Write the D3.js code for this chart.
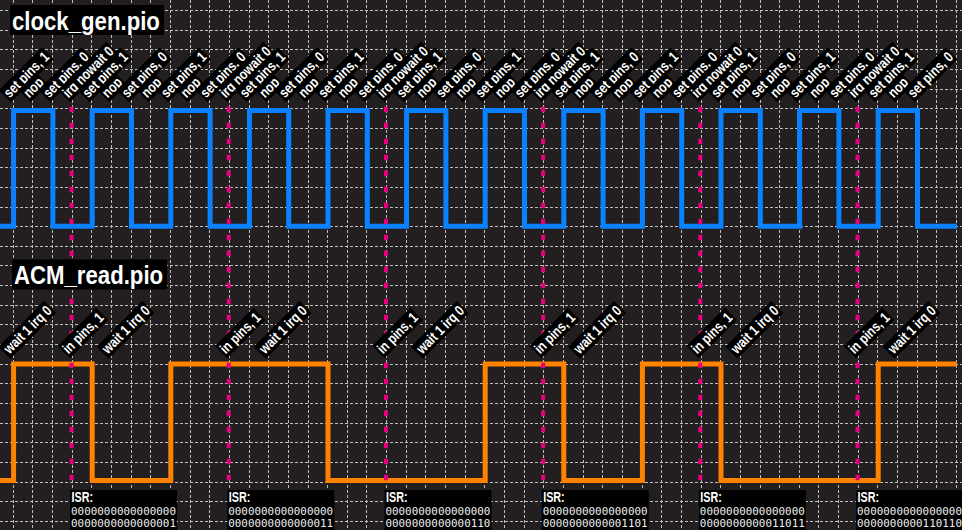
<!DOCTYPE html>
<html><head><meta charset="utf-8">
<script src="https://cdn.jsdelivr.net/npm/d3@7"></script>
<style>
html,body{margin:0;padding:0;background:#231f20;}
svg{display:block;}
</style></head>
<body>
<svg id="c" width="962" height="530"></svg>
<script>
// ---------- data ----------
const clockInstr = [
 "set pins, 1","nop","set pins, 0","irq nowait 0",
 "set pins, 1","nop","set pins, 0","nop",
 "set pins, 1","nop","set pins, 0","irq nowait 0",
 "set pins, 1","nop","set pins, 0","nop",
 "set pins, 1","nop","set pins, 0","irq nowait 0",
 "set pins, 1","nop","set pins, 0","nop",
 "set pins, 1","nop","set pins, 0","irq nowait 0",
 "set pins, 1","nop","set pins, 0","nop",
 "set pins, 1","nop","set pins, 0","irq nowait 0",
 "set pins, 1","nop","set pins, 0","nop",
 "set pins, 1","nop","set pins, 0","irq nowait 0",
 "set pins, 1","nop","set pins, 0"
];
const clockTimes  = [-0.75,0,2,4,6,8,10,12,14,16,18,20,22,24,26,28,30,32,34,36,38,40,42,44,46,48];
const clockLevels = [0,1,0,1,0,1,0,1,0,1,0,1,0,1,0,1,0,1,0,1,0,1,0,1,0,0];

const acmInstr = ["wait 1 irq 0","in pins, 1","wait 1 irq 0","in pins, 1","wait 1 irq 0","in pins, 1","wait 1 irq 0","in pins, 1","wait 1 irq 0","in pins, 1","wait 1 irq 0","in pins, 1","wait 1 irq 0"];
const acmTimes = [0,3,5,11,13,19,21,27,29,35,37,43,45];

const dataTimes  = [-0.75,0,4,8,16,24,28,32,36,44,48];
const dataLevels = [0,1,0,1,0,1,0,1,0,1,1];

const irqTimes = [3,11,19,27,35,43];
const isrHigh = ["0000000000000000","0000000000000000","0000000000000000","0000000000000000","0000000000000000","0000000000000000"];
const isrLow  = ["0000000000000001","0000000000000011","0000000000000110","0000000000001101","0000000000011011","0000000000110110"];

const titles = ["clock_gen.pio","ACM_read.pio"];

// ---------- drawing ----------
const svg = d3.select("#c");
const W = 962, H = 530;
const LBL = "'Liberation Sans','Arial',sans-serif";
const NARROW = 0.81;

const x = d3.scaleLinear().domain([0,48]).range([13.6,956.8]);
const unit = x(1)-x(0);
const gy = d3.scaleLinear().domain([0,1]).range([108.3,108.3+unit]);
const yClk = d3.scaleLinear().domain([0,1]).range([226.3,110.5]);
const yDat = d3.scaleLinear().domain([0,1]).range([480.5,364]);

svg.append("rect").attr("width",W).attr("height",H).attr("fill","#231f20");

// grid
const grid = svg.append("g").attr("stroke","#bdbdbd").attr("stroke-width",1).attr("stroke-dasharray","3,2");
grid.selectAll("line.v").data(d3.range(-1,50)).join("line").attr("class","v")
  .attr("x1",d=>Math.round(x(d)-0.8)+0.5).attr("x2",d=>Math.round(x(d)-0.8)+0.5)
  .attr("y1",0).attr("y2",H);
grid.selectAll("line.h").data(d3.range(-6,22)).join("line").attr("class","h")
  .attr("y1",d=>Math.round(gy(d))+0.5).attr("y2",d=>Math.round(gy(d))+0.5)
  .attr("x1",0).attr("x2",W);

// waves
const clkLine = d3.line().x(d=>x(d[0])).y(d=>yClk(d[1])).curve(d3.curveStepAfter);
const datLine = d3.line().x(d=>x(d[0])).y(d=>yDat(d[1])).curve(d3.curveStepAfter);
svg.append("path").datum(d3.zip(clockTimes,clockLevels)).attr("d",clkLine)
  .attr("fill","none").attr("stroke","#0a82ff").attr("stroke-width",5);
svg.append("path").datum(d3.zip(dataTimes,dataLevels)).attr("d",datLine)
  .attr("fill","none").attr("stroke","#ff8200").attr("stroke-width",5);

// irq markers
svg.append("g").selectAll("line").data(irqTimes).join("line")
  .attr("x1",d=>x(d)-1).attr("x2",d=>x(d)-1)
  .attr("y1",106.7).attr("y2",490)
  .attr("stroke","#e6007e").attr("stroke-width",4).attr("stroke-dasharray","5.5,10.5");

// rotated labels
function labels(instr, times, baseY){
  const g = svg.append("g");
  instr.forEach((s,i)=>{
    const lg = g.append("g").attr("transform",`translate(${x(times[i])-4},${baseY}) rotate(-45) scale(${NARROW},1)`);
    const r = lg.append("rect").attr("fill","#000");
    const t = lg.append("text").text(s).attr("fill","#fff")
      .attr("font-family",LBL).attr("font-weight","bold").attr("font-size",14.5);
    const b = t.node().getBBox();
    r.attr("x",b.x-2).attr("y",b.y-0.3).attr("width",b.width+4).attr("height",b.height+0.6);
  });
}
labels(clockInstr, d3.range(clockInstr.length), 98.5);
labels(acmInstr, acmTimes, 354.5);

// titles
function title(s, tx, ty){
  const sx = 0.87;
  const g = svg.append("g").attr("transform",`translate(${tx},${ty}) scale(${sx},1)`);
  const r = g.append("rect").attr("fill","#000");
  const t = g.append("text").text(s).attr("fill","#fff")
    .attr("font-family",LBL).attr("font-weight","bold").attr("font-size",25.5);
  const b = t.node().getBBox();
  r.attr("x",b.x-2/sx).attr("y",-24.5).attr("width",b.width+6/sx).attr("height",30);
}
title(titles[0], 12, 29.5);
title(titles[1], 14, 284);

// ISR boxes
const isr = svg.append("g").selectAll("g").data(irqTimes).join("g")
  .attr("transform",d=>`translate(${x(d)-2.5},490)`);
isr.append("rect").attr("width",107).attr("height",45).attr("fill","#000");
isr.append("text").text("ISR:").attr("transform",`translate(1.5,11.5) scale(0.77,1)`).attr("fill","#fff")
  .attr("font-family",LBL).attr("font-weight","bold").attr("font-size",14);
isr.append("text").text((d,i)=>isrHigh[i]).attr("x",1).attr("y",25).attr("fill","#eee")
  .attr("font-family","'DejaVu Sans Mono',monospace").attr("font-size",10.9);
isr.append("text").text((d,i)=>isrLow[i]).attr("x",1).attr("y",36.5).attr("fill","#eee")
  .attr("font-family","'DejaVu Sans Mono',monospace").attr("font-size",10.9);
</script>
</body></html>
